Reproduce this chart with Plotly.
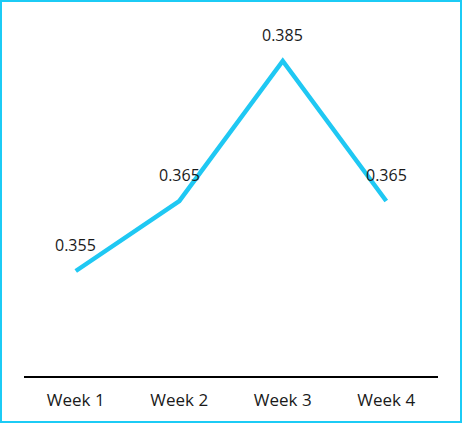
import plotly.graph_objects as go

# Data
weeks = ["Week 1", "Week 2", "Week 3", "Week 4"]
values = [0.355, 0.365, 0.385, 0.365]
value_labels = ["0.355", "0.365", "0.385", "0.365"]

LINE_COLOR = "#1fc8f3"
FONT = "Open Sans"

fig = go.Figure(go.Scatter(
    x=weeks,
    y=values,
    mode="lines",
    line=dict(color=LINE_COLOR, width=4.5),
    hoverinfo="skip",
))

# value labels sit above each point
for w, v, lab in zip(weeks, values, value_labels):
    fig.add_annotation(x=w, y=v, text=lab, showarrow=False, yshift=26,
                       font=dict(family=FONT, size=16, color="#1a1a1a"))

# frame around the whole chart (paper coords from pixel positions)
W, H = 462, 426
ml, mr, mt, mb = 24, 24, 26, 50
pw, ph = W - ml - mr, H - mt - mb
fig.add_shape(type="rect", xref="paper", yref="paper",
              x0=(1 - ml) / pw, x1=(461 - ml) / pw,
              y0=(H - mb - 422) / ph, y1=(H - mb - 1) / ph,
              line=dict(color="#1ccbf5", width=2), layer="above")

fig.update_layout(
    width=W, height=H,
    margin=dict(l=ml, r=mr, t=mt, b=mb),
    plot_bgcolor="white", paper_bgcolor="white",
    showlegend=False,
    font=dict(family=FONT, size=16, color="#1a1a1a"),
    xaxis=dict(
        type="category",
        range=[-0.5, 3.5],
        showgrid=False, zeroline=False,
        showline=True, linecolor="black", linewidth=2,
        ticks="outside", ticklen=8, tickcolor="rgba(0,0,0,0)",
        tickfont=dict(family=FONT, size=17, color="#1a1a1a"),
    ),
    yaxis=dict(
        range=[0.34, 0.39],
        visible=False, showgrid=False, zeroline=False,
    ),
)

# page body has a default 8px margin; drop it so the chart fills the window
fig.write_html("out.html", config={"displayModeBar": False},
               post_script="document.body.style.margin='0';")
